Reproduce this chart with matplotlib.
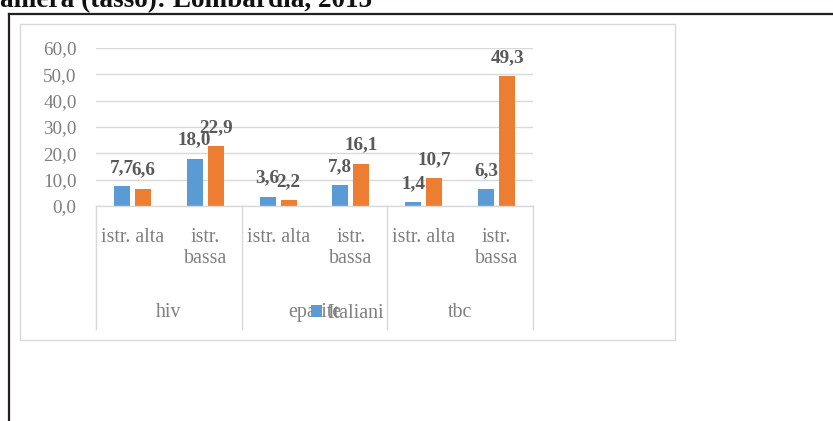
import matplotlib.pyplot as plt
from matplotlib.lines import Line2D
from matplotlib.patches import Rectangle

# data
groups = ['hiv', 'epatite', 'tbc']
levels = ['istr. alta', 'istr.\nbassa']
italiani = [7.7, 18.0, 3.6, 7.8, 1.4, 6.3]
stranieri = [6.6, 22.9, 2.2, 16.1, 10.7, 49.3]
yticks = [0, 10, 20, 30, 40, 50, 60]

BLUE = '#5B9BD5'
ORANGE = '#ED7D31'
GRID = '#d9d9d9'
TXT = '#7f7f7f'
LBL = '#595959'

W, H = 833, 421
plt.rcParams['font.family'] = ['Liberation Serif', 'DejaVu Serif']

fig = plt.figure(figsize=(W / 100, H / 100), dpi=100)


def fx(px):
    return px / W


def fy(py):
    return 1 - py / H


# page decorations: clipped title and black frame
fig.text(fx(0), fy(7), 'aniera (tasso): Lombardia, 2015', fontsize=19.6,
         fontweight='bold', color='#111111', ha='left', va='baseline')
fig.add_artist(Line2D([fx(9), fx(833)], [fy(14), fy(14)], color='#231f20', lw=1.6))
fig.add_artist(Line2D([fx(9), fx(9)], [fy(14), fy(421)], color='#231f20', lw=1.6))
fig.add_artist(Rectangle((fx(20), fy(340)), fx(675) - fx(20), fy(24) - fy(340),
                         transform=fig.transFigure, fill=False, edgecolor=GRID, lw=1.0))

ax = fig.add_axes([fx(96), fy(206), fx(533) - fx(96), fy(48) - fy(206)])

n = len(italiani)
x = list(range(n))
width = 0.22
off = 0.145
b1 = ax.bar([i - off for i in x], italiani, width, color=BLUE, zorder=3)
b2 = ax.bar([i + off for i in x], stranieri, width, color=ORANGE, zorder=3)

for bars, vals in ((b1, italiani), (b2, stranieri)):
    for r, v in zip(bars, vals):
        ax.annotate(f'{v:.1f}'.replace('.', ','), (r.get_x() + r.get_width() / 2, v),
                    xytext=(0, 10), textcoords='offset points', ha='center',
                    va='baseline', fontsize=13.8, fontweight='bold', color=LBL)

ax.set_xlim(-0.5, n - 0.5)
ax.set_ylim(0, 60)
ax.set_yticks(yticks)
ax.set_yticklabels([f'{t:.1f}'.replace('.', ',') for t in yticks])
ax.tick_params(axis='y', length=0, pad=14, labelsize=13.8, labelcolor=TXT)
ax.set_xticks([])
ax.grid(axis='y', color=GRID, lw=1.0, zorder=0)
for s in ('top', 'right', 'left'):
    ax.spines[s].set_visible(False)
ax.spines['bottom'].set_color(GRID)
ax.spines['bottom'].set_linewidth(1.0)
ax.spines['bottom'].set_zorder(4)

# multi level category axis
tr = ax.get_xaxis_transform()
for i in range(n):
    ax.text(i, -0.14, levels[i % 2], transform=tr, ha='center', va='top',
            fontsize=14.3, color=TXT, linespacing=1.15)
for g, name in enumerate(groups):
    ax.text(2 * g + 0.5, -0.677, name, transform=tr, ha='center', va='center',
            fontsize=14.3, color=TXT)
for xs in (-0.5, 1.5, 3.5, 5.5):
    ax.plot([xs, xs], [0, -0.778], transform=tr, color=GRID, lw=1.0, clip_on=False)

leg = fig.legend(handles=[b1], labels=['Italiani'], loc='center left',
                 bbox_to_anchor=(fx(311), fy(314)), frameon=False, fontsize=14.3,
                 handlelength=0.55, handleheight=0.55, handletextpad=0.25,
                 borderpad=0, borderaxespad=0)
for t in leg.get_texts():
    t.set_color(TXT)

fig.savefig('out.png', dpi=100)
